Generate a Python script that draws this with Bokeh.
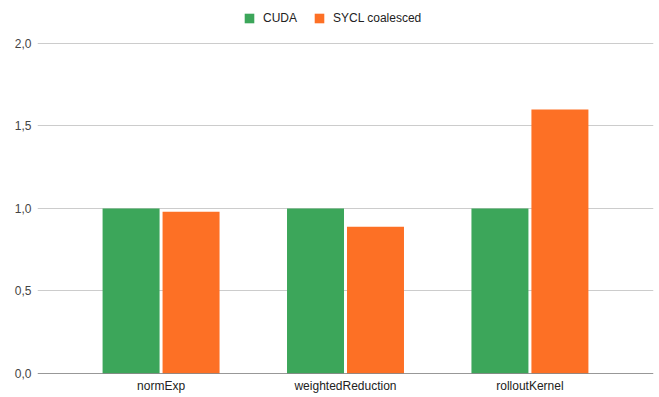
from bokeh.plotting import figure
from bokeh.models import ColumnDataSource, FixedTicker, Legend, LegendItem, Range1d, FactorRange, Span
from bokeh.transform import dodge
from bokeh.embed import file_html
from bokeh.resources import INLINE

categories = ["normExp", "weightedReduction", "rolloutKernel"]
cuda = [1.0, 1.0, 1.0]
sycl = [0.98, 0.89, 1.6]
series_names = ["CUDA", "SYCL coalesced"]
y_ticks = [0, 0.5, 1.0, 1.5, 2.0]
y_tick_labels = ["0,0", "0,5", "1,0", "1,5", "2,0"]

src = ColumnDataSource(dict(cat=categories, cuda=cuda, sycl=sycl))

# frame extends above the 2,0 gridline to make room for the legend inside it
p = figure(x_range=FactorRange(factors=categories, range_padding=0.17, range_padding_units="absolute"),
           y_range=Range1d(0, 2.212),
           width=655, height=395, output_backend="svg", toolbar_location=None,
           min_border_left=37, min_border_right=2, min_border_top=8, min_border_bottom=22)
p.outline_line_color = None
p.background_fill_color = "white"

r1 = p.vbar(x=dodge("cat", -0.1626, range=p.x_range), top="cuda", width=0.309, source=src,
            fill_color="#3ca65a", line_color=None)
r2 = p.vbar(x=dodge("cat", 0.1626, range=p.x_range), top="sycl", width=0.309, source=src,
            fill_color="#fd7025", line_color=None)

p.yaxis.ticker = FixedTicker(ticks=y_ticks)
p.yaxis.major_label_overrides = {t: l for t, l in zip(y_ticks, y_tick_labels)}
p.yaxis.axis_line_color = None
p.yaxis.major_tick_line_color = None
p.yaxis.minor_tick_line_color = None
p.yaxis.major_tick_out = 0
p.yaxis.major_tick_in = 0
p.yaxis.major_label_standoff = 6
p.yaxis.major_label_text_font = "Liberation Sans"
p.yaxis.major_label_text_font_size = "12px"
p.yaxis.major_label_text_color = "#444444"

p.xaxis.axis_line_color = None
p.xaxis.major_tick_line_color = None
p.xaxis.minor_tick_line_color = None
p.xaxis.major_tick_out = 0
p.xaxis.major_tick_in = 0
p.xaxis.major_label_standoff = 5
p.xaxis.major_label_text_font = "Liberation Sans"
p.xaxis.major_label_text_font_size = "12px"
p.xaxis.major_label_text_color = "#222222"

p.xgrid.grid_line_color = None
p.ygrid.grid_line_color = "#cccccc"
p.ygrid.grid_line_width = 1

base = Span(location=0, dimension="width", line_color="#333333", line_width=1)
p.add_layout(base)

legend = Legend(items=[LegendItem(label=series_names[0], renderers=[r1]),
                       LegendItem(label=series_names[1], renderers=[r2])],
                orientation="horizontal", location=(206, 348),
                label_text_font="Liberation Sans", label_text_font_size="12px",
                label_text_color="#222222", glyph_width=12, glyph_height=12,
                label_standoff=8, spacing=16, border_line_color=None,
                background_fill_alpha=0, padding=0, margin=0)
p.add_layout(legend, "center")

open("out.html", "w").write(file_html(p, INLINE))
